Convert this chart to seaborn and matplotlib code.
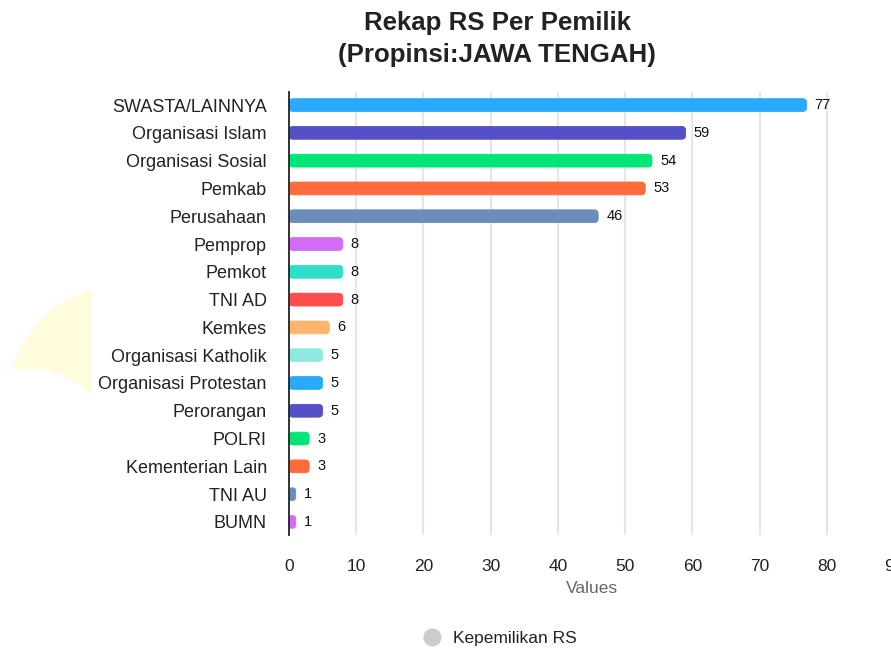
import matplotlib
matplotlib.use("Agg")
import matplotlib.pyplot as plt
import seaborn as sns
import pandas as pd
from matplotlib.patches import FancyBboxPatch, PathPatch
from matplotlib.path import Path
from matplotlib.lines import Line2D

categories = ["SWASTA/LAINNYA", "Organisasi Islam", "Organisasi Sosial", "Pemkab",
              "Perusahaan", "Pemprop", "Pemkot", "TNI AD", "Kemkes",
              "Organisasi Katholik", "Organisasi Protestan", "Perorangan", "POLRI",
              "Kementerian Lain", "TNI AU", "BUMN"]
values = [77, 59, 54, 53, 46, 8, 8, 8, 6, 5, 5, 5, 3, 3, 1, 1]
colors = ["#2AAAFC", "#5450C6", "#00E676", "#FF6B3B", "#6C8DBC", "#D46BF6",
          "#2EE0C9", "#FF4C4C", "#FFB56B", "#90E9DF", "#2AAAFC", "#5450C6",
          "#00E676", "#FF6B3B", "#6C8DBC", "#D46BF6"]
xticks = [0, 10, 20, 30, 40, 50, 60, 70, 80, 90]
title_lines = ["Rekap RS Per Pemilik", "(Propinsi:JAWA TENGAH)"]
series_name = "Kepemilikan RS"
x_label = "Values"

sns.set_style("white")
plt.rcParams["font.family"] = ["Liberation Sans", "DejaVu Sans"]

W, H = 891, 648
fig = plt.figure(figsize=(W / 100, H / 100), dpi=100)
ax = fig.add_axes([289 / W, 1 - 535 / H, (894 - 289) / W, (535 - 92) / H])

df = pd.DataFrame({"cat": categories, "val": values})
sns.barplot(data=df, x="val", y="cat", hue="cat", palette=colors, orient="h",
            width=0.46, saturation=1, legend=False, ax=ax, zorder=3)

ax.set_xlim(0, 90)
ax.set_ylim(15.47, -0.47)
ax.set_xticks(xticks)
ax.grid(axis="x", color="#e6e6e6", linewidth=1.5, zorder=0)
ax.grid(axis="y", visible=False)
for s in ["top", "right", "bottom"]:
    ax.spines[s].set_visible(False)
ax.spines["left"].set_color("#222222")
ax.spines["left"].set_linewidth(1.3)
ax.spines["left"].set_zorder(5)
ax.tick_params(axis="y", length=0, pad=16, labelsize=13, labelcolor="#222222")
ax.tick_params(axis="x", length=0, pad=17, labelsize=12.5, labelcolor="#222222")
ax.set_ylabel("")
ax.set_xlabel(x_label, fontsize=12.5, color="#666666", labelpad=5)

# rounded bars
px_x = 90 / (894 - 289)
px_y = 1 / 27.8
asp = px_y / px_x
for p in list(ax.patches):
    x, y, w, h = p.get_x(), p.get_y(), p.get_width(), p.get_height()
    fc = p.get_facecolor()
    r = min(4 * px_x, w / 2, abs(h) / asp / 2)
    fb = FancyBboxPatch((x, y), w, h, boxstyle=f"round,pad=0,rounding_size={r}",
                        mutation_aspect=asp, facecolor=fc, edgecolor=fc,
                        linewidth=0.6, zorder=3)
    p.remove()
    ax.add_patch(fb)

for i, v in enumerate(values):
    ax.text(v + 8 * px_x, i, str(v), va="center", ha="left", fontsize=10.5, color="#111111")

fig.text(497 / W, 1 - 23 / H, title_lines[0], ha="center", va="center",
         fontsize=18.6, fontweight="bold", color="#222222")
fig.text(497 / W, 1 - 55 / H, title_lines[1], ha="center", va="center",
         fontsize=18.6, fontweight="bold", color="#222222")

# decorative pale shape
def fp(x, y):
    return (x / W, 1 - y / H)
verts = [fp(92, 290), fp(35, 305), fp(11, 370), fp(60, 365), fp(92, 395), fp(92, 290)]
codes = [Path.MOVETO, Path.CURVE3, Path.CURVE3, Path.CURVE3, Path.CURVE3, Path.CLOSEPOLY]
fig.patches.append(PathPatch(Path(verts, codes), transform=fig.transFigure,
                             facecolor="#FFFCDD", edgecolor="none", zorder=0))

handle = Line2D([], [], marker="o", linestyle="none", markersize=12,
                markerfacecolor="#cccccc", markeredgecolor="#cccccc")
fig.legend([handle], [series_name], loc="center", bbox_to_anchor=(496 / W, 1 - 638 / H),
           frameon=False, fontsize=12.5, handletextpad=0.2, labelcolor="#222222")

fig.savefig("out.png", dpi=100)
